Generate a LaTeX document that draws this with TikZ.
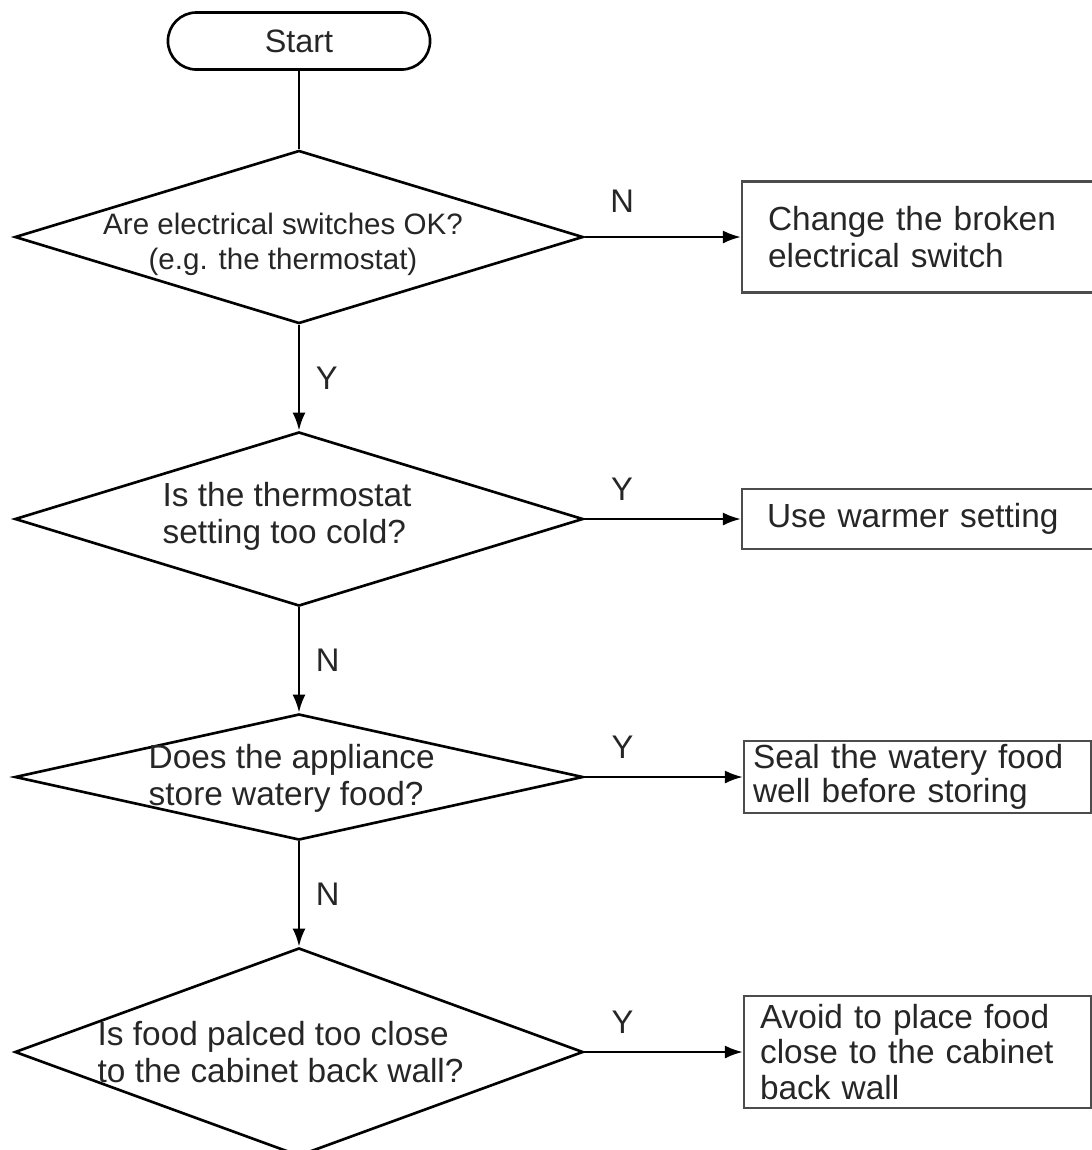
\documentclass[tikz,border=0pt]{standalone}
\usepackage{fontspec}
\setmainfont{Liberation Sans}
\usetikzlibrary{shapes.geometric,arrows.meta}

\tikzset{
  decision/.style={diamond, draw=black, line width=0.75pt, inner sep=0pt, minimum width=5.68cm},
  qtext/.style={inner sep=0pt, text=black!85, font=\fontsize{9.5}{10.6}\selectfont},
  action/.style={rectangle, draw=black!70, line width=0.6pt, anchor=west, align=left, inner ysep=0pt, text=black!85, font=\fontsize{9.5}{10.6}\selectfont},
  terminal/.style={rectangle, rounded corners=2.85mm, draw=black, line width=0.75pt, minimum width=2.62cm, minimum height=0.57cm, text=black!85, font=\fontsize{9.2}{11}\selectfont},
  flow/.style={line width=0.75pt, -{Latex[length=1.8mm,width=1.3mm]}},
  yn/.style={text=black!85, font=\fontsize{9.3}{11}\selectfont, inner sep=1pt}
}

\begin{document}
\begin{tikzpicture}[x=0.01cm, y=-0.01cm]
  \path[use as bounding box, clip] (0,0) rectangle (1092,1150);

  \node[terminal] (start) at (299,41) {Start};

  % questions
  \node[decision, minimum height=1.73cm] (q1) at (299,237) {};
  \node[qtext, align=center, font=\fontsize{8.4}{10}\selectfont] (q1t) at (283,244) {Are electrical switches OK?\\(e.g. the thermostat)};
  \node[decision, minimum height=1.74cm] (q2) at (299,519) {};
  \node[qtext, align=left, anchor=west] (q2t) at (162,516) {Is the thermostat\\setting too cold?};
  \node[decision, minimum height=1.26cm] (q3) at (299,777) {};
  \node[qtext, align=left, anchor=west] (q3t) at (148,778) {Does the appliance\\store watery food?};
  \node[decision, minimum height=2.08cm] (q4) at (299,1052) {};
  \node[qtext, align=left, anchor=west] (q4t) at (97,1052) {Is food palced too close\\to the cabinet back wall?};

  % actions
  \node[action, text width=3.08cm, minimum height=1.11cm, inner xsep=0.26cm] (a1) at (741,237) {Change the broken\\electrical switch};
  \node[action, text width=3.1cm, minimum height=0.6cm, inner xsep=0.25cm] (a2) at (741,519) {Use warmer setting};
  \node[action, text width=3.29cm, minimum height=0.72cm, inner xsep=0.09cm, font=\fontsize{9.5}{9.8}\selectfont] (a3) at (743,777) {Seal the watery food\\well before storing};
  \node[action, text width=3.15cm, minimum height=1.12cm, inner xsep=0.16cm, font=\fontsize{9.5}{10}\selectfont] (a4) at (743,1052) {Avoid to place food\\close to the cabinet\\back wall};

  % connectors
  \draw[line width=0.75pt] (start) -- (q1);
  \draw[flow] (q1) -- node[yn, midway, right=1.2mm] (y1) {Y} (q2);
  \draw[flow] (q2) -- node[yn, midway, right=1.2mm] (n2) {N} (q3);
  \draw[flow] (q3) -- node[yn, midway, right=1.2mm] (n3) {N} (q4);
  \draw[flow] (q1) -- node[yn, pos=.24, above=2mm] (n1) {N} (a1);
  \draw[flow] (q2) -- node[yn, pos=.24, above=1.4mm] (y2) {Y} (a2);
  \draw[flow] (q3) -- node[yn, pos=.24, above=1.4mm] (y3) {Y} (a3);
  \draw[flow] (q4) -- node[yn, pos=.24, above=1.4mm] (y4) {Y} (a4);
\end{tikzpicture}
\end{document}
